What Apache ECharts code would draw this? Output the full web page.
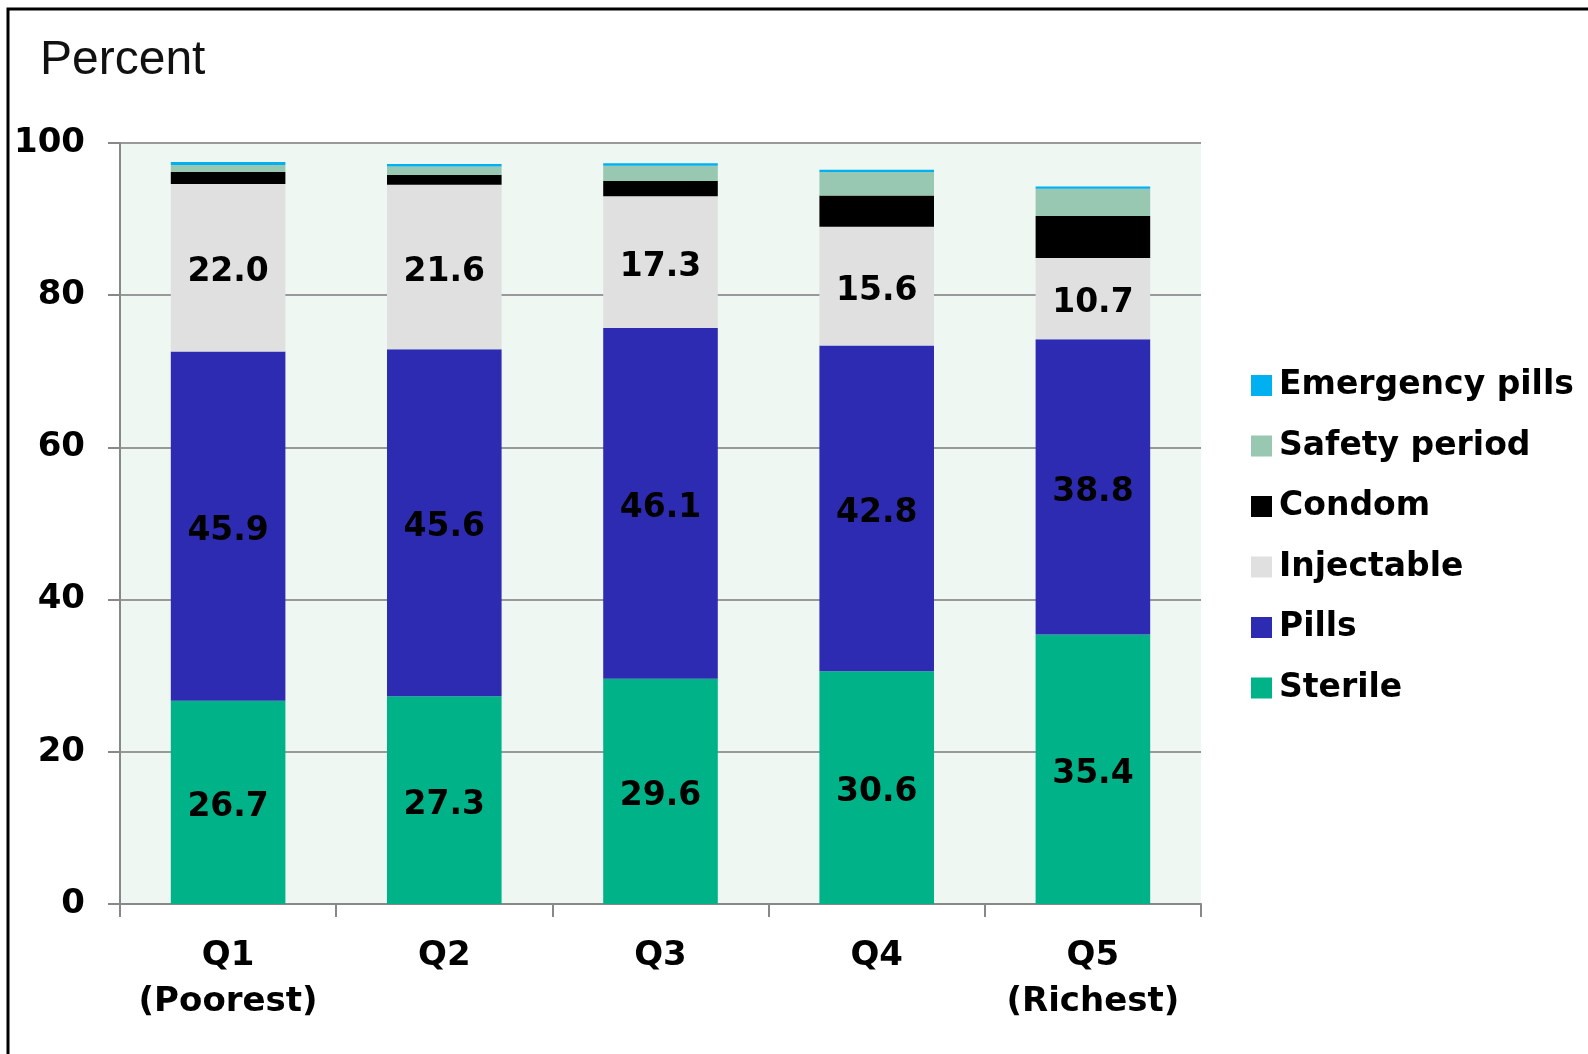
<!DOCTYPE html>
<html>
<head>
<meta charset="utf-8">
<script src="https://cdn.jsdelivr.net/npm/echarts@6/dist/echarts.min.js"></script>
<style>
  html, body { margin: 0; padding: 0; background: #fff; }
  #chart { width: 1588px; height: 1054px; }
</style>
</head>
<body>
<div id="chart"></div>
<script>
// quintile categories
const categories = ['Q1\n(Poorest)', 'Q2', 'Q3', 'Q4', 'Q5\n(Richest)']

// values, percent (bottom to top of stack)
const sterile = [26.7, 27.3, 29.6, 30.6, 35.4]
const pills = [45.9, 45.6, 46.1, 42.8, 38.8]
const injectable = [22.0, 21.6, 17.3, 15.6, 10.7]
const condom = [1.6, 1.3, 2.0, 4.1, 5.5]
const safetyPeriod = [0.9, 1.1, 2.0, 3.1, 3.6]
const emergencyPills = [0.4, 0.35, 0.35, 0.3, 0.3]

const yTicks = [0, 20, 40, 60, 80, 100]

const font = 'DejaVu Sans, Verdana, sans-serif'

const chart = echarts.init(document.getElementById('chart'))

function barSeries(name, data, color, showLabel) {
  return {
    name: name,
    type: 'bar',
    stack: 'total',
    data: data,
    barWidth: '53%',
    itemStyle: { color: color },
    label: {
      show: showLabel,
      position: 'inside',
      offset: [0, 5],
      color: '#000',
      fontFamily: font,
      fontWeight: 'bold',
      fontSize: 33,
      formatter: p => p.value.toFixed(1)
    },
    emphasis: { disabled: true }
  }
}

chart.setOption({
  animation: false,
  backgroundColor: '#fff',
  graphic: [
    // outer frame
    {
      type: 'rect',
      shape: { x: 8, y: 9, width: 1600, height: 1100 },
      style: { fill: 'none', stroke: '#000', lineWidth: 3 }
    },
    {
      type: 'text',
      left: 40,
      top: 37,
      style: { text: 'Percent', font: '48px "Liberation Sans", Arial, sans-serif', fill: '#111' }
    }
  ],
  grid: {
    left: 120,
    right: 387,
    top: 143,
    bottom: 150,
    show: true,
    backgroundColor: '#EEF7F1',
    borderWidth: 0
  },
  legend: {
    orient: 'vertical',
    left: 1246,
    top: 364,
    itemWidth: 21,
    itemHeight: 21,
    itemGap: 27.5,
    icon: 'rect',
    data: ['Emergency pills', 'Safety period', 'Condom', 'Injectable', 'Pills', 'Sterile'],
    textStyle: { fontFamily: font, fontWeight: 'bold', fontSize: 33, lineHeight: 33, color: '#000', padding: [0, 0, 0, 2] }
  },
  xAxis: {
    type: 'category',
    data: categories,
    axisLine: { lineStyle: { color: '#888', width: 2 } },
    axisTick: { show: true, interval: 0, length: 13, lineStyle: { color: '#888', width: 2 } },
    axisLabel: {
      interval: 0,
      margin: 29,
      color: '#000',
      fontFamily: font,
      fontWeight: 'bold',
      fontSize: 34,
      lineHeight: 46
    }
  },
  yAxis: {
    type: 'value',
    min: 0,
    max: 100,
    interval: 20,
    axisLine: { show: true, lineStyle: { color: '#888', width: 2 } },
    axisTick: { show: true, length: 12, lineStyle: { color: '#888', width: 2 } },
    splitLine: { lineStyle: { color: '#999', width: 2 } },
    axisLabel: {
      margin: 35,
      padding: [6, 0, 0, 0],
      color: '#000',
      fontFamily: font,
      fontWeight: 'bold',
      fontSize: 34,
      formatter: v => (yTicks.includes(v) ? String(v) : '')
    }
  },
  series: [
    barSeries('Sterile', sterile, '#00B287', true),
    barSeries('Pills', pills, '#2E2BB3', true),
    barSeries('Injectable', injectable, '#E0E0E0', true),
    barSeries('Condom', condom, '#000000', false),
    barSeries('Safety period', safetyPeriod, '#98C7B2', false),
    barSeries('Emergency pills', emergencyPills, '#00B0F0', false)
  ]
})
</script>
</body>
</html>
